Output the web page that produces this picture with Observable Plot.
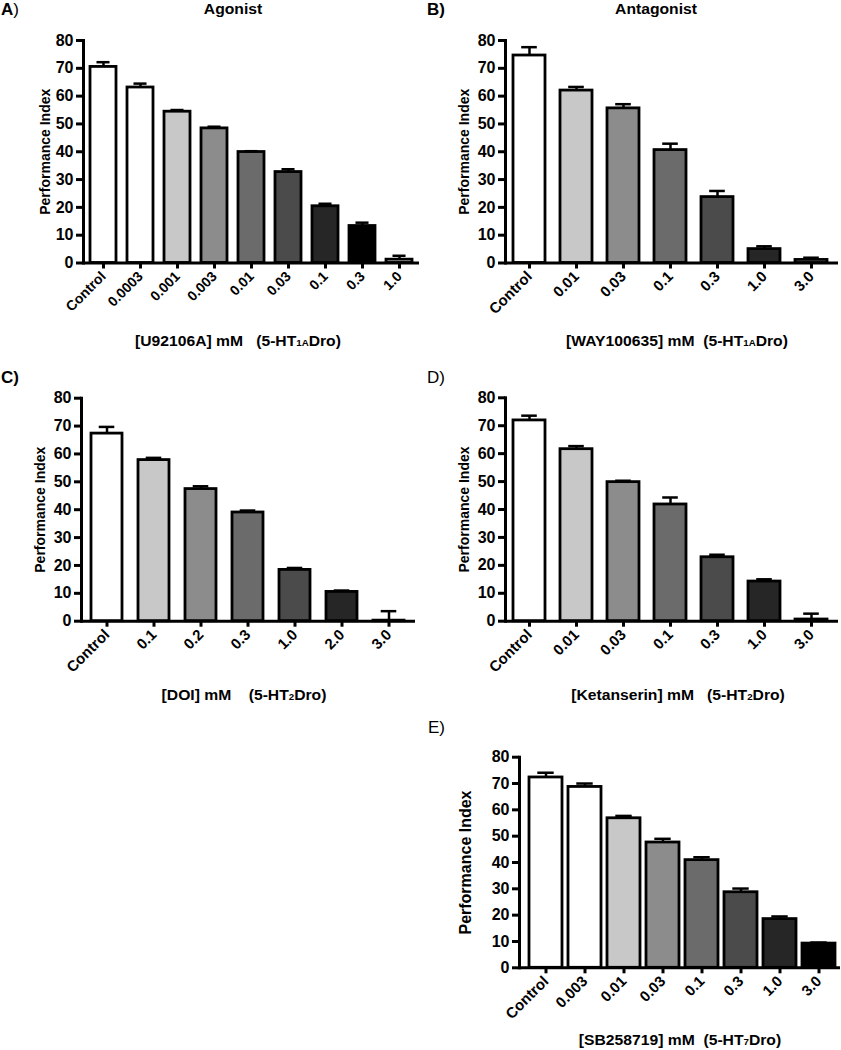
<!DOCTYPE html>
<html><head><meta charset="utf-8">
<script src="https://cdn.jsdelivr.net/npm/d3@7"></script>
<script src="https://cdn.jsdelivr.net/npm/@observablehq/plot@0.6"></script>
<style>
body{margin:0;background:#fff;font-family:"Liberation Sans",Arial,sans-serif;}
#page{position:relative;width:841px;height:1050px;overflow:hidden;background:#fff;}
.t{position:absolute;white-space:pre;line-height:1;color:#000;}
.panel{position:absolute;}
.sub{font-size:62%;}
</style></head><body><div id="page"></div>
<script>
const FONT = '"Liberation Sans", Arial, sans-serif';
const Y_TICKS = [0, 10, 20, 30, 40, 50, 60, 70, 80];
const Y_LABEL = "Performance Index";

const A_categories = ["Control","0.0003","0.001","0.003","0.01","0.03","0.1","0.3","1.0"];
const A_means = [70.5,63.1,54.4,48.4,39.9,32.7,20.4,13.3,1.2];
const A_sem   = [1.7,1.4,0.6,0.6,0.3,1.0,0.9,1.2,1.4];

const B_categories = ["Control","0.01","0.03","0.1","0.3","1.0","3.0"];
const B_means = [74.6,62.0,55.6,40.6,23.7,5.0,1.1];
const B_sem   = [3.0,1.3,1.5,2.3,2.2,1.0,0.8];

const C_categories = ["Control","0.1","0.2","0.3","1.0","2.0","3.0"];
const C_means = [67.3,57.8,47.4,39.0,18.4,10.5,0.2];
const C_sem   = [2.4,0.8,1.0,0.7,0.7,0.5,3.4];

const D_categories = ["Control","0.01","0.03","0.1","0.3","1.0","3.0"];
const D_means = [71.9,61.6,49.8,41.8,22.9,14.2,0.6];
const D_sem   = [1.7,1.1,0.5,2.5,0.9,0.8,2.1];

const E_categories = ["Control","0.003","0.01","0.03","0.1","0.3","1.0","3.0"];
const E_means = [72.3,68.7,56.8,47.6,40.9,28.7,18.5,9.2];
const E_sem   = [1.8,1.3,0.9,1.4,1.1,1.4,1.0,0.4];

const W = "#ffffff", G1 = "#c8c8c8", G2 = "#8c8c8c", G3 = "#6b6b6b", G4 = "#4b4b4b", G5 = "#262626", K = "#000000";

const page = document.getElementById("page");

function panel(cfg) {
  const data = cfg.cats.map((c, i) => ({c, v: cfg.means[i], hi: cfg.means[i] + cfg.sem[i]}));
  const n = cfg.cats.length;
  const x0 = cfg.c0 - cfg.step / 2, x1 = cfg.c0 + cfg.step * (n - 0.5);
  const bw = cfg.step * (1 - cfg.pi);
  const capInset = bw * 0.25;
  const svg = Plot.plot({
    width: cfg.width, height: cfg.height,
    marginLeft: cfg.ml, marginRight: cfg.mr, marginTop: cfg.mt, marginBottom: cfg.mb,
    style: {fontFamily: FONT, background: "transparent", overflow: "visible", color: "#000"},
    x: {domain: cfg.cats, range: [x0, x1], paddingInner: cfg.pi, paddingOuter: cfg.pi / 2, axis: null},
    y: {domain: [0, 80], axis: null},
    color: {domain: cfg.cats, range: cfg.fills},
    marks: [
      Plot.barY(data, {x: "c", y: "v", fill: "c", stroke: "black", strokeWidth: 2.8}),
      Plot.ruleX(data, {x: "c", y1: "v", y2: "hi", strokeWidth: 2.5}),
      Plot.tickY(data, {x: "c", y: "hi", strokeWidth: 2.5, insetLeft: capInset, insetRight: capInset}),
      Plot.ruleY([0], {strokeWidth: 3}),
      Plot.frame({anchor: "left", strokeWidth: 3}),
      Plot.axisY({ticks: Y_TICKS, tickSize: 7, tickPadding: 3, strokeWidth: 3, fontSize: 16, fontWeight: "bold", label: null}),
      Plot.axisX({tickSize: 6, tickPadding: 5, strokeWidth: 3, tickRotate: -45, fontSize: cfg.xtSize, fontWeight: "bold", label: null}),
      Plot.text([Y_LABEL], {frameAnchor: "left", textAnchor: "middle", rotate: -90, dx: cfg.ylabelDx, fontSize: cfg.ylabelSize, fontWeight: "bold"})
    ]
  });
  const div = document.createElement("div");
  div.className = "panel";
  div.style.left = cfg.left + "px";
  div.style.top = cfg.top + "px";
  div.appendChild(svg);
  page.appendChild(div);
}

function label(html, {x, baseline, size = 14, weight = "bold", center = false, sx = 1}) {
  const d = document.createElement("div");
  d.className = "t";
  d.innerHTML = html;
  d.style.fontSize = size + "px";
  d.style.fontWeight = weight;
  d.style.top = (baseline - 0.8465 * size) + "px";
  d.style.left = x + "px";
  d.style.transformOrigin = center ? "50% 50%" : "0 50%";
  d.style.transform = (center ? "translateX(-50%) " : "") + `scaleX(${sx})`;
  page.appendChild(d);
}

panel({cats: A_categories, means: A_means, sem: A_sem, fills: [W, W, G1, G2, G3, G4, G5, K, W],
  left: 0, top: 28, width: 421, height: 300, ml: 83, mr: 2, mt: 12, mb: 65.5,
  c0: 103, step: 37, pi: 0.30, ylabelDx: -38, ylabelSize: 14, xtSize: 14});
panel({cats: B_categories, means: B_means, sem: B_sem, fills: [W, G1, G2, G3, G4, G5, W],
  left: 420, top: 28, width: 421, height: 300, ml: 85, mr: 3, mt: 12, mb: 65.5,
  c0: 108, step: 47.5, pi: 0.31, ylabelDx: -41, ylabelSize: 14, xtSize: 15});
panel({cats: C_categories, means: C_means, sem: C_sem, fills: [W, G1, G2, G3, G4, G5, W],
  left: 0, top: 385, width: 421, height: 300, ml: 81, mr: 6, mt: 12.7, mb: 64.3,
  c0: 104.3, step: 47.5, pi: 0.35, ylabelDx: -41, ylabelSize: 14, xtSize: 15});
panel({cats: D_categories, means: D_means, sem: D_sem, fills: [W, G1, G2, G3, G4, G5, W],
  left: 420, top: 385, width: 421, height: 300, ml: 85, mr: 3, mt: 12.3, mb: 64.3,
  c0: 107.7, step: 47.6, pi: 0.31, ylabelDx: -41, ylabelSize: 14, xtSize: 15});
panel({cats: E_categories, means: E_means, sem: E_sem, fills: [W, W, G1, G2, G3, G4, G5, K],
  left: 420, top: 745, width: 421, height: 290, ml: 99, mr: 1, mt: 11.7, mb: 67.7,
  c0: 123.3, step: 39.5, pi: 0.16, ylabelDx: -54, ylabelSize: 16, xtSize: 15});

label('<b>A</b><span style="font-weight:normal">)</span>', {x: 1, baseline: 15, size: 17, weight: "normal"});
label("Agonist", {x: 233, baseline: 14, size: 14, center: true, sx: 1.12});
label("B)", {x: 427, baseline: 15, size: 17});
label("Antagonist", {x: 656, baseline: 14, size: 14, center: true, sx: 1.12});
label('[U92106A] mM   (5-HT<span class="sub">1A</span>Dro)', {x: 238, baseline: 346, size: 14, center: true, sx: 1.12});
label('[WAY100635] mM  (5-HT<span class="sub">1A</span>Dro)', {x: 677, baseline: 346, size: 14, center: true, sx: 1.12});
label("C)", {x: 1, baseline: 383, size: 17});
label("D)", {x: 427, baseline: 383, size: 17, weight: "normal"});
label('[DOI] mM    (5-HT<span class="sub">2</span>Dro)', {x: 244, baseline: 700, size: 14, center: true, sx: 1.12});
label('[Ketanserin] mM   (5-HT<span class="sub">2</span>Dro)', {x: 678, baseline: 700, size: 14, center: true, sx: 1.12});
label("E)", {x: 428, baseline: 733, size: 17, weight: "normal"});
label('[SB258719] mM  (5-HT<span class="sub">7</span>Dro)', {x: 680, baseline: 1045, size: 14, center: true, sx: 1.12});
</script></body></html>
